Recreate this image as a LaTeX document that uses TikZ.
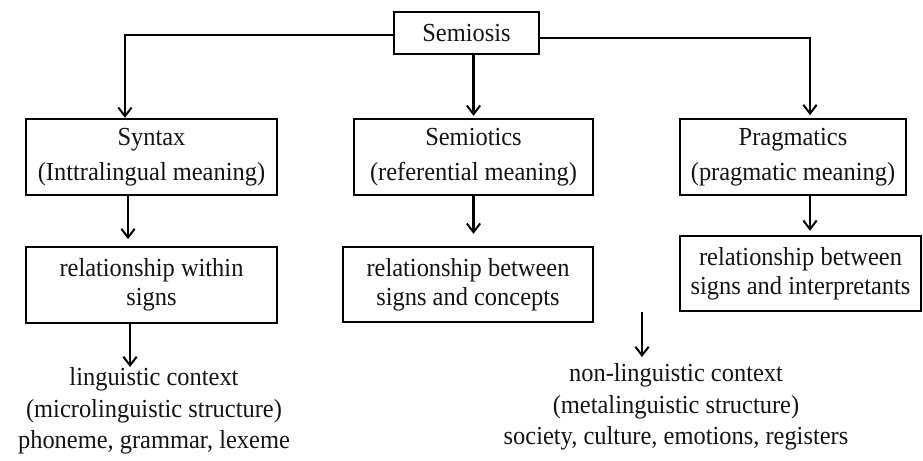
\documentclass[tikz,border=0pt]{standalone}
\usepackage{fontspec}
\setmainfont{Liberation Serif}[FakeStretch=0.94]
\usetikzlibrary{arrows.meta,calc}
\begin{document}
\begin{tikzpicture}[x=0.75pt,y=-0.75pt,
  box/.style={draw=black,line width=1.8pt,inner sep=0pt,align=center,text=black!92,
    font=\fontsize{19.5}{26}\selectfont},
  relbox/.style={box,font=\fontsize{19.5}{22}\selectfont},
  plain/.style={inner sep=0pt,align=center,text=black!92,font=\fontsize{19.5}{23.6}\selectfont},
  arr/.style={line width=1.6pt,-{Straight Barb[length=6.5pt,width=10pt,line width=1.5pt]}}]
\useasboundingbox[fill=white] (0,0) rectangle (923,460);
% boxes
\node[box,minimum width=108.75pt,minimum height=31.5pt] (semiosis) at (466.5,33) {Semiosis};
\node[box,minimum width=188.25pt,minimum height=57pt] (syntax) at (151.5,157) {Syntax\\(Inttralingual meaning)};
\node[box,minimum width=179.25pt,minimum height=57pt] (semiotics) at (473.5,157) {Semiotics\\(referential meaning)};
\node[box,minimum width=169.5pt,minimum height=57pt] (pragmatics) at (793,157) {Pragmatics\\(pragmatic meaning)};
\node[relbox,minimum width=188.25pt,minimum height=57pt] (relwithin) at (151.5,285) {relationship within\\signs};
\node[relbox,minimum width=187.5pt,minimum height=56.25pt] (relbetween) at (468,284.5) {relationship between\\signs and concepts};
\node[relbox,minimum width=180.75pt,minimum height=56.25pt] (relinterp) at (800.5,273.5) {relationship between\\signs and interpretants};
% free texts
\node[plain] (ling) at (154,411) {linguistic context\\(microlinguistic structure)\\phoneme, grammar, lexeme};
\node[plain] (nonling) at (676,407) {non-linguistic context\\(metalinguistic structure)\\society, culture, emotions, registers};
% coordinates for free arrow ends
\coordinate (lingtop) at (130,367);
\coordinate (nltop) at (642,357);
\coordinate (nlstart) at (642,312);
% connectors
\draw[arr] ([yshift=-1.5pt]semiosis.west) -| ([xshift=-19.9pt]syntax.north);
\draw[arr,shorten >=2pt] ([yshift=-3.5pt]semiosis.east) -| ([xshift=12.75pt]pragmatics.north);
\draw[arr,shorten >=1.5pt] (semiosis.south -| semiotics.north) -- (semiotics.north);
\draw[arr,shorten >=5pt] ([xshift=-17.6pt]syntax.south) -- ([xshift=-17.6pt]syntax.south |- relwithin.north);
\draw[arr,shorten >=9pt] (semiotics.south) -- (semiotics.south |- relbetween.north);
\draw[arr,shorten >=3pt] ([xshift=12.75pt]pragmatics.south) -- ([xshift=12.75pt]pragmatics.south |- relinterp.north);
\draw[arr] (relwithin.south -| lingtop) -- (lingtop);
\draw[arr] (nlstart) -- (nltop);
\end{tikzpicture}
\end{document}
